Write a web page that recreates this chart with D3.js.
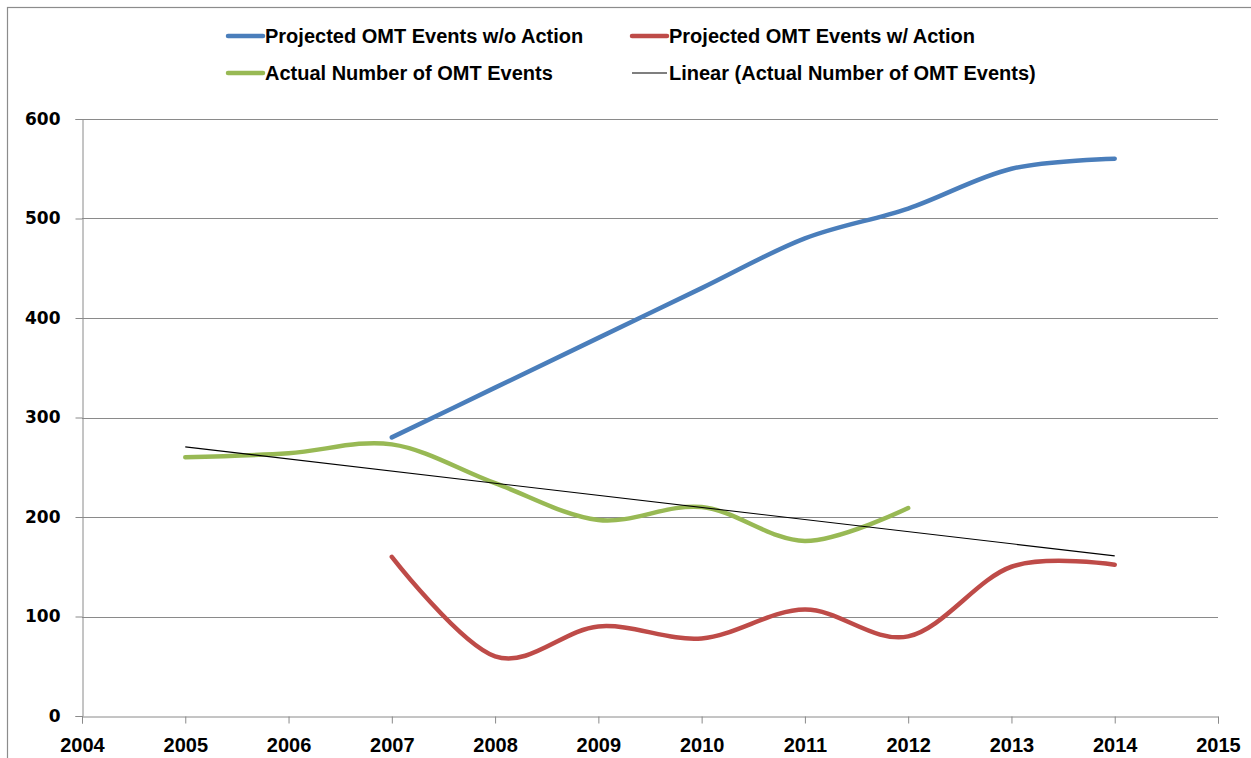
<!DOCTYPE html>
<html><head><meta charset="utf-8">
<script src="https://cdn.jsdelivr.net/npm/d3@7"></script>
<style>
body{margin:0;background:#fff;}
svg{display:block;}
</style></head>
<body>
<svg id="chart" width="1251" height="758"></svg>
<script>
const years = [2005,2006,2007,2008,2009,2010,2011,2012,2013,2014];
const projectedNoActionYears = [2007,2008,2009,2010,2011,2012,2013,2014];
const projectedNoAction = [280,330,380,430,480,510,550,560];
const projectedActionYears = [2007,2008,2009,2010,2011,2012,2013,2014];
const projectedAction = [160,60,90,78,107,80,150,152];
const actualYears = [2005,2006,2007,2008,2009,2010,2011,2012];
const actual = [260,264,273,234,197,210,176,209];
const trendYears = [2005,2014];
const xTicks = [2004,2005,2006,2007,2008,2009,2010,2011,2012,2013,2014,2015];
const yTicks = [0,100,200,300,400,500,600];
const legendLabels = ["Projected OMT Events w/o Action","Projected OMT Events w/ Action","Actual Number of OMT Events","Linear (Actual Number of OMT Events)"];

const svg = d3.select("#chart");
const W = 1251, H = 758;
const plot = {left:82, right:1218, top:119, bottom:716};

// outer chart border
svg.append("rect").attr("x",7.5).attr("y",7.5).attr("width",W).attr("height",H)
  .attr("fill","none").attr("stroke","#8c8c8c").attr("stroke-width",1.2);

const x = d3.scaleLinear().domain([2004,2015]).range([plot.left, plot.right]);
const y = d3.scaleLinear().domain([0,600]).range([plot.bottom, plot.top]);

// gridlines
svg.append("g").selectAll("line").data(yTicks.filter(d=>d>0)).join("line")
  .attr("x1",plot.left).attr("x2",plot.right)
  .attr("y1",d=>Math.round(y(d))+0.5).attr("y2",d=>Math.round(y(d))+0.5)
  .attr("stroke","#8a8a8a").attr("stroke-width",1);

// y axis
const yAxis = svg.append("g").attr("transform",`translate(${plot.left+0.5},0)`)
  .call(d3.axisLeft(y).tickValues(yTicks).tickSize(7).tickPadding(15).tickFormat(d3.format("d")));
yAxis.select(".domain").attr("stroke","#8a8a8a");
yAxis.selectAll(".tick line").attr("stroke","#8a8a8a");
yAxis.selectAll("text").attr("font-family","DejaVu Sans, Verdana, sans-serif")
  .attr("font-weight","bold").attr("font-size","17px").attr("fill","#000");

// x axis
const xAxis = svg.append("g").attr("transform",`translate(0,${plot.bottom+0.5})`)
  .call(d3.axisBottom(x).tickValues(xTicks).tickSize(7).tickPadding(14).tickFormat(d3.format("d")));
xAxis.select(".domain").attr("stroke","#8a8a8a");
xAxis.selectAll(".tick line").attr("stroke","#8a8a8a");
xAxis.selectAll("text").attr("font-family","Liberation Sans, Arial, sans-serif")
  .attr("font-weight","bold").attr("font-size","20px").attr("fill","#000");

// excel-like smooth curve
const line = d3.line().x(d=>x(d[0])).y(d=>y(d[1])).curve(d3.curveCardinal.tension(0));

const colors = ["#4a7ebb","#be4b48","#98b954","#000000"];

svg.append("path").datum(d3.zip(actualYears, actual)).attr("d",line)
  .attr("fill","none").attr("stroke",colors[2]).attr("stroke-width",4.5).attr("stroke-linecap","round");

// linear trendline fitted to actual data
const mx = d3.mean(actualYears), my = d3.mean(actual);
const slope = d3.sum(actualYears.map((v,i)=>(v-mx)*(actual[i]-my))) / d3.sum(actualYears.map(v=>(v-mx)*(v-mx)));
const intercept = my - slope*mx;
svg.append("path").datum(trendYears.map(t=>[t, intercept + slope*t]))
  .attr("d", d3.line().x(d=>x(d[0])).y(d=>y(d[1])))
  .attr("fill","none").attr("stroke","#000").attr("stroke-width",1.1);

svg.append("path").datum(d3.zip(projectedNoActionYears, projectedNoAction)).attr("d",line)
  .attr("fill","none").attr("stroke",colors[0]).attr("stroke-width",4.5).attr("stroke-linecap","round");
svg.append("path").datum(d3.zip(projectedActionYears, projectedAction)).attr("d",line)
  .attr("fill","none").attr("stroke",colors[1]).attr("stroke-width",4.5).attr("stroke-linecap","round");

// legend
const legendPos = [[228,36],[632,36],[228,73],[632,73]];
const lg = svg.append("g");
legendLabels.forEach((lab,i)=>{
  const [lx,ly] = legendPos[i];
  lg.append("line").attr("x1",lx).attr("x2",lx+35).attr("y1",ly).attr("y2",ly)
    .attr("stroke",colors[i]).attr("stroke-width", i===3?1.2:4.5).attr("stroke-linecap", i===3?"butt":"round");
  lg.append("text").attr("x",lx+37).attr("y",ly+7).text(lab)
    .attr("font-family","Liberation Sans Narrow, Arial Narrow, Liberation Sans, sans-serif")
    .attr("font-weight","bold").attr("font-size","20px").attr("fill","#000");
});
</script>
</body></html>
